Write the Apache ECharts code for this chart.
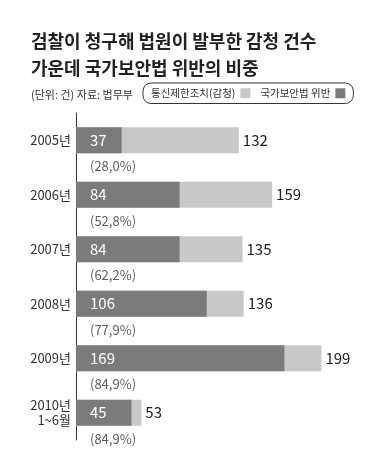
<!DOCTYPE html>
<html>
<head>
<meta charset="utf-8">
<script src="https://cdn.jsdelivr.net/npm/echarts@6/dist/echarts.min.js"></script>
<style>
  html, body { margin: 0; padding: 0; background: #fff; }
  #chart { width: 378px; height: 476px; }
</style>
</head>
<body>
<div id="chart"></div>
<script>
const FONT = '"Noto Sans CJK KR", "Noto Sans", sans-serif';

const categories = ["2005년", "2006년", "2007년", "2008년", "2009년", "2010년\n1~6월"];
const totalCounts = [132, 159, 135, 136, 199, 53];       // 통신제한조치(감청)
const securityLawCounts = [37, 84, 84, 106, 169, 45];    // 국가보안법 위반
const shares = [28.0, 52.8, 62.2, 77.9, 84.9, 84.9];     // 비중 (%)

const DARK = "#7b7b7b";
const LIGHT = "#c8c8c8";

const chart = echarts.init(document.getElementById("chart"));
chart.setOption({
  animation: false,
  textStyle: { fontFamily: FONT },
  title: [
    {
      text: "검찰이 청구해 법원이 발부한 감청 건수\n가운데 국가보안법 위반의 비중",
      left: 26,
      top: 23,
      textStyle: { fontSize: 18, fontWeight: "bold", color: "#222", lineHeight: 27, fontFamily: FONT }
    },
    {
      text: "(단위: 건) 자료: 법무부",
      left: 26,
      top: 84,
      textStyle: { fontSize: 11, fontWeight: "normal", color: "#333", fontFamily: FONT }
    }
  ],
  legend: {
    data: ["통신제한조치(감청)", "국가보안법 위반"],
    left: 143,
    top: 83,
    align: "right",
    icon: "rect",
    itemWidth: 10,
    itemHeight: 10,
    itemGap: 10,
    padding: [5, 8],
    borderColor: "#333",
    borderWidth: 1,
    borderRadius: 8,
    textStyle: { fontSize: 10.5, color: "#333", fontFamily: FONT }
  },
  grid: { left: 76, top: 113, width: 296, height: 327 },
  xAxis: {
    type: "value",
    min: 0,
    max: 240,
    show: false
  },
  yAxis: {
    type: "category",
    inverse: true,
    data: categories,
    axisLine: { show: true, lineStyle: { color: "#333", width: 1 } },
    axisTick: { show: false },
    axisLabel: { fontSize: 13, color: "#333", margin: 5, lineHeight: 15, fontFamily: FONT }
  },
  series: [
    {
      name: "통신제한조치(감청)",
      type: "bar",
      data: totalCounts,
      barWidth: 26,
      barGap: "-100%",
      itemStyle: { color: LIGHT },
      label: { show: true, position: "right", distance: 4, fontSize: 15, color: "#222", fontFamily: FONT }
    },
    {
      name: "국가보안법 위반",
      type: "bar",
      data: securityLawCounts,
      barWidth: 26,
      itemStyle: { color: DARK },
      label: { show: true, position: "insideLeft", offset: [9, 0], fontSize: 15, color: "#fff", fontFamily: FONT }
    },
    {
      name: "비중",
      type: "scatter",
      symbolSize: 0,
      data: shares.map((v, i) => [0, i, v]),
      label: {
        show: true,
        position: "right",
        distance: 0,
        offset: [14, 26],
        fontSize: 13,
        color: "#333",
        fontFamily: FONT,
        formatter: p => "(" + p.value[2].toFixed(1).replace(".", ",") + "%)"
      }
    }
  ]
});
</script>
</body>
</html>
